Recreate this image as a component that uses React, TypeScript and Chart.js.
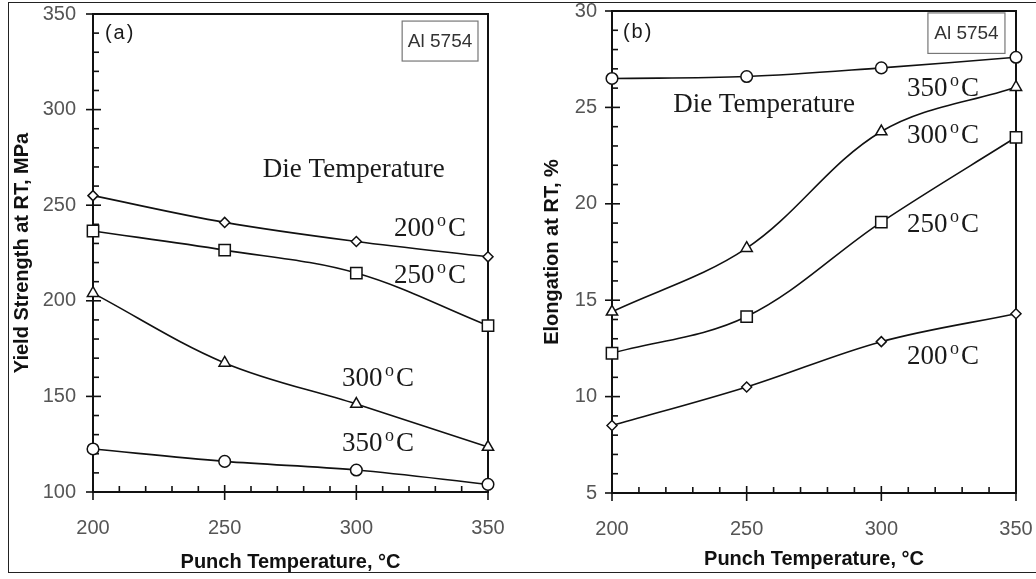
import { useEffect, useRef } from "react";
import { Chart, registerables } from "chart.js";

Chart.register(...registerables);

// Punch temperature, °C (shared x values of both panels)
const punchTemps = [200, 250, 300, 350];
const xTickValues = [200, 250, 300, 350];

// Panel (a): yield strength at RT, MPa, one series per die temperature
const ysDie200 = [255, 241, 231, 223];
const ysDie250 = [236.5, 226.5, 214.5, 187];
const ysDie300 = [204, 167.5, 146, 123.5];
const ysDie350 = [122.5, 116, 111.5, 104];
const ysTickValues = [100, 150, 200, 250, 300, 350];

// Panel (b): elongation at RT, %, one series per die temperature
const elDie350 = [26.5, 26.6, 27.05, 27.6];
const elDie300 = [14.4, 17.7, 23.75, 26.05];
const elDie250 = [12.25, 14.15, 19.05, 23.45];
const elDie200 = [8.5, 10.5, 12.85, 14.3];
const elTickValues = [5, 10, 15, 20, 25, 30];

const INK = "#111";
const TICK_GREY = "#555";
const SANS = '"Liberation Sans", Arial, sans-serif';
const SERIF = '"Liberation Serif", "Times New Roman", serif';

type Note =
  | { kind: "text"; text: string; x: number; y: number }
  | { kind: "deg"; text: string; x: number; y: number }
  | { kind: "tag"; text: string; x: number; y: number }
  | { kind: "box"; text: string; x0: number; x1: number; y0: number; y1: number };

const notesA: Note[] = [
  { kind: "tag", text: "(a)", x: 210.3, y: 340 },
  { kind: "box", text: "Al 5754", x0: 317.4, x1: 346.2, y0: 346.3, y1: 325.4 },
  { kind: "text", text: "Die Temperature", x: 264.5, y: 264.6 },
  { kind: "deg", text: "200", x: 314.3, y: 233.9 },
  { kind: "deg", text: "250", x: 314.3, y: 209.3 },
  { kind: "deg", text: "300", x: 294.6, y: 155.4 },
  { kind: "deg", text: "350", x: 294.6, y: 121.4 },
];

const notesB: Note[] = [
  { kind: "tag", text: "(b)", x: 209.7, y: 28.9 },
  { kind: "box", text: "Al 5754", x0: 317.3, x1: 345.9, y0: 29.9, y1: 27.8 },
  { kind: "text", text: "Die Temperature", x: 222.7, y: 24.76 },
  { kind: "deg", text: "350", x: 309.5, y: 25.59 },
  { kind: "deg", text: "300", x: 309.5, y: 23.15 },
  { kind: "deg", text: "250", x: 309.5, y: 18.54 },
  { kind: "deg", text: "200", x: 309.5, y: 11.69 },
];

// Plot frame plus inward minor ticks and crossing major ticks
const frameAxes = {
  id: "frameAxes",
  beforeDatasetsDraw(chart: any, _args: any, opts: any) {
    const { ctx, chartArea: a, scales } = chart;
    const x = scales.x;
    const y = scales.y;
    const seg = (x1: number, y1: number, x2: number, y2: number) => {
      ctx.beginPath();
      ctx.moveTo(x1, y1);
      ctx.lineTo(x2, y2);
      ctx.stroke();
    };
    ctx.save();
    ctx.strokeStyle = INK;
    ctx.lineWidth = 2;
    ctx.strokeRect(a.left, a.top, a.right - a.left, a.bottom - a.top);
    ctx.lineWidth = 1.6;
    const yMajors = y.ticks.map((t: any) => t.value);
    const ySteps = Math.round((y.max - y.min) / opts.yMinor);
    for (let i = 0; i <= ySteps; i++) {
      const v = y.min + i * opts.yMinor;
      const py = y.getPixelForValue(v);
      if (yMajors.some((m: number) => Math.abs(m - v) < 1e-6)) seg(a.left - 7, py, a.left + 8, py);
      else seg(a.left, py, a.left + 6, py);
    }
    const xMajors = x.ticks.map((t: any) => t.value);
    const xSteps = Math.round((x.max - x.min) / opts.xMinor);
    for (let i = 0; i <= xSteps; i++) {
      const v = x.min + i * opts.xMinor;
      const px = x.getPixelForValue(v);
      if (xMajors.some((m: number) => Math.abs(m - v) < 1e-6)) seg(px, a.bottom - 7, px, a.bottom + 8);
      else seg(px, a.bottom, px, a.bottom - 6);
    }
    ctx.restore();
  },
};

// Text notes placed in data coordinates
const panelNotes = {
  id: "panelNotes",
  afterDatasetsDraw(chart: any, _args: any, opts: any) {
    const { ctx, scales } = chart;
    const px = (v: number) => scales.x.getPixelForValue(v);
    const py = (v: number) => scales.y.getPixelForValue(v);
    ctx.save();
    ctx.fillStyle = "#1a1a1a";
    for (const n of opts.items as Note[]) {
      if (n.kind === "text") {
        ctx.font = `27px ${SERIF}`;
        ctx.textAlign = "left";
        ctx.textBaseline = "alphabetic";
        ctx.fillText(n.text, px(n.x), py(n.y));
      } else if (n.kind === "deg") {
        const x0 = px(n.x);
        const y0 = py(n.y);
        ctx.textAlign = "left";
        ctx.textBaseline = "alphabetic";
        ctx.font = `27px ${SERIF}`;
        ctx.fillText(n.text, x0, y0);
        let cx = x0 + ctx.measureText(n.text).width + 2.5;
        ctx.font = `18px ${SERIF}`;
        ctx.fillText("o", cx, y0 - 10);
        cx += ctx.measureText("o").width + 2;
        ctx.font = `27px ${SERIF}`;
        ctx.fillText("C", cx, y0);
      } else if (n.kind === "tag") {
        ctx.font = `20px ${SANS}`;
        (ctx as any).letterSpacing = "2px";
        ctx.textAlign = "center";
        ctx.textBaseline = "middle";
        ctx.fillText(n.text, px(n.x), py(n.y));
        (ctx as any).letterSpacing = "0px";
      } else if (n.kind === "box") {
        const l = px(n.x0);
        const r = px(n.x1);
        const t = py(n.y0);
        const b = py(n.y1);
        ctx.strokeStyle = "#777";
        ctx.lineWidth = 1.2;
        ctx.strokeRect(l, t, r - l, b - t);
        ctx.font = `19px ${SANS}`;
        ctx.fillStyle = "#333";
        ctx.textAlign = "center";
        ctx.textBaseline = "middle";
        ctx.fillText(n.text, (l + r) / 2, (t + b) / 2 + 1);
        ctx.fillStyle = "#1a1a1a";
      }
    }
    ctx.restore();
  },
};

type SeriesDef = { label: string; values: number[]; style: string; radius: number };

function buildDatasets(series: SeriesDef[]) {
  return series.map((s) => ({
    label: s.label,
    data: punchTemps.map((t, i) => ({ x: t, y: s.values[i] })),
    borderColor: INK,
    borderWidth: 1.6,
    backgroundColor: "#fff",
    pointBackgroundColor: "#fff",
    pointBorderColor: INK,
    pointBorderWidth: 1.5,
    pointStyle: s.style,
    pointRadius: s.radius,
    tension: 0.35,
    clip: false as const,
  }));
}

type PanelCfg = {
  series: SeriesDef[];
  yMin: number;
  yMax: number;
  yTicks: number[];
  yMinor: number;
  yTitle: string;
  yWidth: number;
  yTitlePad: number;
  yTickGap: number;
  padTop: number;
  padRight: number;
  xHeight: number;
  xTitlePad: number;
  notes: Note[];
};

function Panel({ cfg, left }: { cfg: PanelCfg; left: number }) {
  const ref = useRef<HTMLCanvasElement | null>(null);
  useEffect(() => {
    if (!ref.current) return;
    const chart = new Chart(ref.current, {
      type: "line",
      data: { datasets: buildDatasets(cfg.series) as any },
      plugins: [frameAxes, panelNotes],
      options: {
        animation: false,
        responsive: false,
        maintainAspectRatio: false,
        events: [],
        layout: { padding: { left: 0, right: cfg.padRight, top: cfg.padTop, bottom: 0 } },
        plugins: {
          legend: { display: false },
          tooltip: { enabled: false },
          frameAxes: { xMinor: 10, yMinor: cfg.yMinor },
          panelNotes: { items: cfg.notes },
        } as any,
        scales: {
          x: {
            type: "linear",
            min: 200,
            max: 350,
            afterBuildTicks: (s: any) => {
              s.ticks = xTickValues.map((v) => ({ value: v }));
            },
            afterFit: (s: any) => {
              s.height = cfg.xHeight;
            },
            grid: { display: false, drawTicks: true, tickLength: 24 },
            border: { display: false },
            ticks: {
              autoSkip: false,
              maxRotation: 0,
              padding: 0,
              color: TICK_GREY,
              font: { family: SANS, size: 20 },
            },
            title: {
              display: true,
              text: "Punch Temperature, °C",
              color: INK,
              font: { family: SANS, size: 20, weight: "bold" },
              padding: { top: 0, bottom: cfg.xTitlePad },
            },
          },
          y: {
            type: "linear",
            min: cfg.yMin,
            max: cfg.yMax,
            afterBuildTicks: (s: any) => {
              s.ticks = cfg.yTicks.map((v) => ({ value: v }));
            },
            afterFit: (s: any) => {
              s.width = cfg.yWidth;
            },
            grid: { display: false, drawTicks: true, tickLength: cfg.yTickGap },
            border: { display: false },
            ticks: {
              autoSkip: false,
              padding: 0,
              color: TICK_GREY,
              font: { family: SANS, size: 20, lineHeight: 1 },
            },
            title: {
              display: true,
              text: cfg.yTitle,
              color: INK,
              font: { family: SANS, size: 20, weight: "bold" },
              padding: { top: cfg.yTitlePad, bottom: 0 },
            },
          },
        },
      } as any,
    });
    return () => chart.destroy();
  }, [cfg]);
  return (
    <canvas
      ref={ref}
      width={518}
      height={579}
      style={{ position: "absolute", left, top: 0, width: 518, height: 579 }}
    />
  );
}

const panelA: PanelCfg = {
  series: [
    { label: "200 °C", values: ysDie200, style: "rectRot", radius: 5 },
    { label: "250 °C", values: ysDie250, style: "rect", radius: 8 },
    { label: "300 °C", values: ysDie300, style: "triangle", radius: 6.5 },
    { label: "350 °C", values: ysDie350, style: "circle", radius: 5.8 },
  ],
  yMin: 100,
  yMax: 350,
  yTicks: ysTickValues,
  yMinor: 10,
  yTitle: "Yield Strength at RT, MPa",
  yWidth: 93,
  yTitlePad: 10,
  yTickGap: 17,
  padTop: 14,
  padRight: 30,
  xHeight: 87,
  xTitlePad: 5,
  notes: notesA,
};

const panelB: PanelCfg = {
  series: [
    { label: "350 °C", values: elDie350, style: "circle", radius: 5.8 },
    { label: "300 °C", values: elDie300, style: "triangle", radius: 6.5 },
    { label: "250 °C", values: elDie250, style: "rect", radius: 8 },
    { label: "200 °C", values: elDie200, style: "rectRot", radius: 5 },
  ],
  yMin: 5,
  yMax: 30,
  yTicks: elTickValues,
  yMinor: 1,
  yTitle: "Elongation at RT, %",
  yWidth: 94,
  yTitlePad: 22,
  yTickGap: 15,
  padTop: 11,
  padRight: 20,
  xHeight: 86,
  xTitlePad: 8,
  notes: notesB,
};

export default function App() {
  return (
    <div
      style={{
        position: "absolute",
        left: 0,
        top: 0,
        width: 1036,
        height: 579,
        overflow: "hidden",
        background: "#fff",
      }}
    >
      <div
        style={{
          position: "absolute",
          left: 8,
          top: 2,
          width: 1100,
          height: 569,
          borderLeft: "1px solid #222",
          borderTop: "1px solid #222",
          borderBottom: "1px solid #222",
        }}
      />
      <Panel cfg={panelA} left={0} />
      <Panel cfg={panelB} left={518} />
    </div>
  );
}
